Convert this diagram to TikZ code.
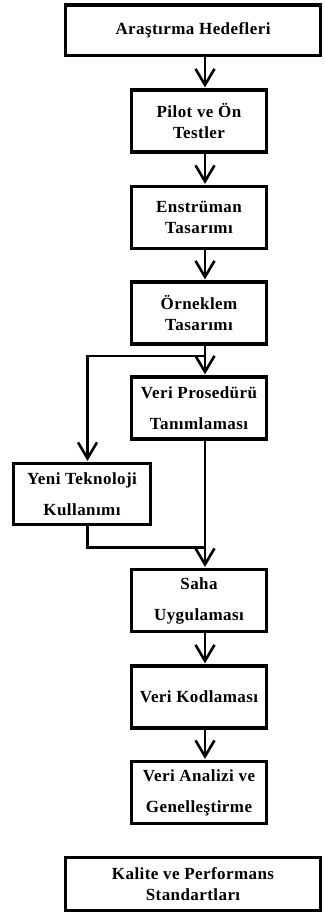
\documentclass[tikz,border=0pt]{standalone}
\usepackage{fontspec}
\setmainfont[LetterSpace=2.5]{Liberation Serif}
\usetikzlibrary{arrows.meta}
\begin{document}
\begin{tikzpicture}[x=1pt,y=-1pt,
  box/.style={draw=black, line width=3.2pt, fill=white, rectangle, align=center,
    inner sep=0pt, font=\bfseries\fontsize{17}{21}\selectfont},
  colbox/.style={box, minimum width=135.5pt, minimum height=62pt},
  widebox/.style={box, minimum width=255pt},
  loose/.style={font=\bfseries\fontsize{17}{31}\selectfont},
  link/.style={line width=2.8pt, draw=black},
  arr/.style={link, -{Straight Barb[length=16pt, width=19pt, line width=2.6pt]}, shorten >=1pt}]
\useasboundingbox (0,0) rectangle (324,913);

% guide columns for the connectors
\coordinate (col) at (205,0);
\coordinate (colL) at (87.5,0);

% main chain
\node[widebox, minimum height=50.5pt] (B1) at (193,30.25) {Araştırma Hedefleri};
\node[colbox] (B2) at (199,121) {Pilot ve Ön\\Testler};
\node[colbox] (B3) at (199,217.5) {Enstrüman\\Tasarımı};
\node[colbox] (B4) at (199,313) {Örneklem\\Tasarımı};
\node[colbox, loose] (B5) at (199,408) {Veri Prosedürü\\Tanımlaması};
\node[box, loose, minimum width=137pt, minimum height=61pt] (B6) at (82,494) {Yeni Teknoloji\\Kullanımı};
\node[colbox, loose] (B7) at (199,600.5) {Saha\\Uygulaması};
\node[colbox] (B8) at (199,697) {Veri Kodlaması};
\node[colbox, loose] (B9) at (199,792.5) {Veri Analizi ve\\Genelleştirme};
\node[widebox, minimum height=53pt] (B10) at (193,884) {Kalite ve Performans\\Standartları};

% branch and join points
\coordinate (split) at (205,356);
\coordinate (join) at (205,547.5);

% connectors
\draw[arr] (B1.south -| col) -- (B2.north -| col);
\draw[arr] (B2.south -| col) -- (B3.north -| col);
\draw[arr] (B3.south -| col) -- (B4.north -| col);
\draw[arr] (B4.south -| col) -- (B5.north -| col);
\draw[arr] (split) -| (B6.north -| colL);
\draw[link, line join=miter] (B6.south -| colL) |- (join);
\draw[arr] (B5.south -| col) -- (B7.north -| col);
\draw[arr] (B7.south -| col) -- (B8.north -| col);
\draw[arr] (B8.south -| col) -- (B9.north -| col);
\end{tikzpicture}
\end{document}
